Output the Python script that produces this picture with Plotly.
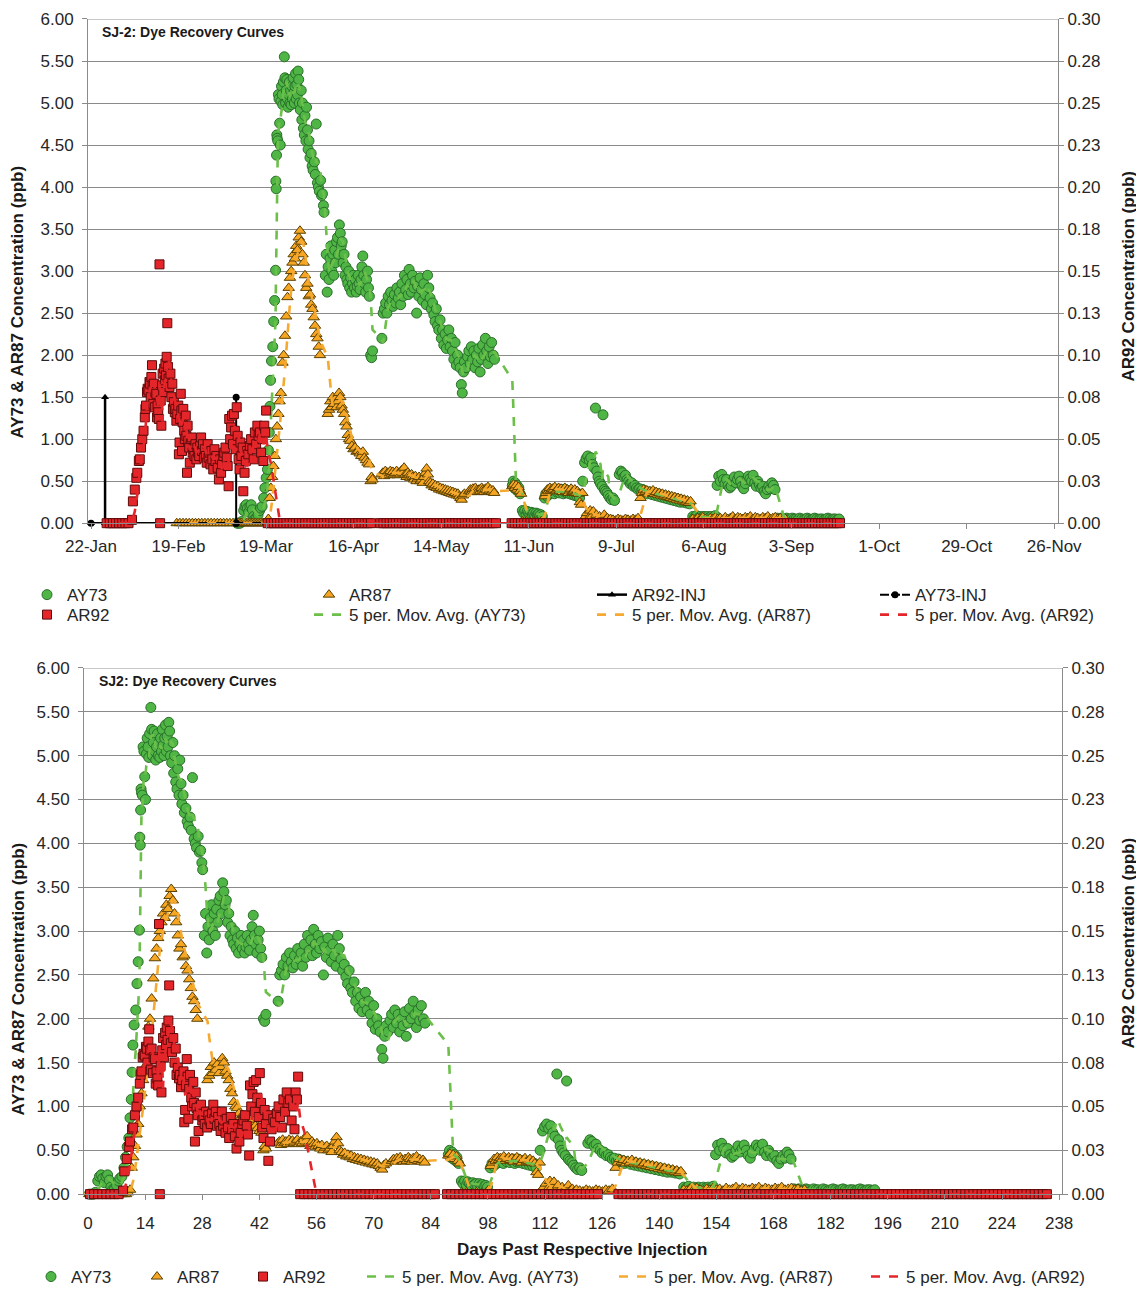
import pandas as pd
import plotly.graph_objects as go

# ---------------- data ----------------
ay73_inj = "2011-03-09 10:00"
ar87_inj = "2011-03-09 10:00"
ar92_inj = "2011-01-26 12:00"

# (days past injection, ppb)
ay73_pts = [
    (0.3, 0.0), (0.8, 0.0), (1.3, 0.0), (1.8, 0.02), (2.4, 0.15), (2.8, 0.2), (3.2, 0.22), (3.6, 0.18),
    (4.0, 0.13), (4.4, 0.2), (4.8, 0.22), (5.2, 0.16), (5.6, 0.08), (6.0, 0.05), (6.5, 0.06), (7.0, 0.1),
    (7.5, 0.15), (7.8, 0.18), (8.3, 0.2), (8.8, 0.3), (9.2, 0.42), (9.6, 0.54), (10.0, 0.64), (10.3, 0.87),
    (10.6, 1.08), (10.8, 1.39), (11.0, 1.7), (11.3, 1.93), (11.7, 2.1), (12.0, 2.4), (12.3, 2.65), (12.6, 3.01),
    (12.7, 4.07), (12.8, 3.98), (12.9, 4.38), (13.0, 4.62), (13.1, 4.58), (13.3, 4.55), (13.5, 5.1), (13.7, 5.05),
    (13.9, 4.76), (14.1, 4.5), (14.3, 5.02), (14.5, 5.2), (14.7, 5.1), (14.9, 4.98), (15.1, 5.25), (15.4, 5.55),
    (15.6, 5.3), (15.8, 5.0), (16.0, 5.15), (16.2, 5.28), (16.4, 5.05), (16.6, 4.95), (16.8, 5.1), (17.0, 5.25),
    (17.2, 5.0), (17.4, 5.15), (17.6, 4.98), (17.8, 5.2), (18.0, 5.05), (18.2, 5.3), (18.4, 5.12), (18.6, 5.0),
    (18.8, 5.2), (19.0, 5.35), (19.2, 5.05), (19.4, 5.22), (19.6, 5.1), (19.8, 5.38), (20.0, 5.28), (20.2, 5.0),
    (20.5, 4.92), (20.8, 5.15), (21.0, 4.8), (21.2, 5.0), (21.5, 4.7), (21.8, 4.62), (22.0, 4.85), (22.3, 4.55),
    (22.5, 4.95), (22.8, 4.68), (23.0, 4.45), (23.3, 4.55), (23.6, 4.35), (24.0, 4.4), (24.3, 4.25), (24.6, 4.2),
    (25.0, 4.3), (25.3, 4.15), (25.6, 4.75), (26.0, 4.05), (26.3, 4.0), (26.6, 3.95), (27.0, 4.08), (27.3, 3.9),
    (27.6, 3.92), (27.9, 3.78), (28.1, 3.7),
    (28.5, 2.95), (28.8, 3.2), (29.1, 2.75), (29.4, 3.05), (29.7, 2.9), (30.0, 3.15), (30.3, 3.3), (30.6, 3.0),
    (30.9, 3.2), (31.2, 2.95), (31.5, 3.25), (31.8, 3.1), (32.1, 3.35), (32.4, 3.4), (32.7, 3.2), (33.0, 3.55),
    (33.3, 3.45), (33.6, 3.3), (33.9, 3.35), (34.2, 3.1), (34.5, 3.2), (34.8, 2.95), (35.1, 3.05), (35.4, 2.9),
    (35.7, 2.85), (36.0, 3.0), (36.3, 2.8), (36.6, 2.92), (36.9, 2.75), (37.2, 2.85), (37.5, 2.95), (37.8, 2.8),
    (38.1, 2.9), (38.4, 2.75), (38.7, 2.82), (39.0, 2.95), (39.3, 2.85), (39.6, 2.78), (39.9, 2.9), (40.2, 3.05),
    (40.5, 3.18), (40.8, 2.95), (41.1, 2.85), (41.4, 2.75), (41.7, 2.9), (42.0, 3.0), (42.3, 2.8), (42.6, 2.7),
    (43.0, 2.0), (43.3, 1.97), (43.6, 2.05),
    (46.6, 2.2), (47.0, 2.5), (47.4, 2.55), (47.8, 2.62), (48.2, 2.5), (48.6, 2.7), (49.0, 2.6), (49.4, 2.75),
    (49.8, 2.65), (50.2, 2.58), (50.6, 2.72), (51.0, 2.62), (51.4, 2.8), (51.8, 2.68), (52.2, 2.75), (52.6, 2.6),
    (53.0, 2.85), (53.4, 2.7), (53.8, 2.95), (54.2, 2.78), (54.6, 2.9), (55.0, 2.72), (55.3, 3.02), (55.7, 2.85),
    (56.0, 2.75), (56.4, 2.95), (56.8, 2.8), (57.2, 2.88), (57.7, 2.5), (58.0, 2.82), (58.4, 2.7), (58.8, 2.92),
    (59.2, 2.78), (59.6, 2.65), (60.0, 2.85), (60.4, 2.72), (60.8, 2.6), (61.2, 2.95), (61.6, 2.8), (62.0, 2.68),
    (62.4, 2.55), (62.8, 2.62), (63.2, 2.48), (63.6, 2.4), (64.0, 2.55), (64.4, 2.35), (64.8, 2.3), (65.2, 2.42),
    (65.6, 2.2), (66.0, 2.3), (66.4, 2.12), (66.8, 2.25), (67.2, 2.08), (67.6, 2.18), (68.0, 2.3), (68.4, 2.1),
    (68.8, 2.2), (69.2, 2.05), (69.6, 1.95), (70.0, 2.15), (70.4, 1.88), (70.8, 2.0), (71.2, 1.92), (71.6, 1.85),
    (72.0, 1.65), (72.3, 1.55), (72.7, 1.8), (73.0, 1.92), (73.5, 1.85), (74.0, 1.98), (74.4, 2.05), (74.8, 1.9),
    (75.2, 2.1), (75.6, 1.95), (76.0, 2.05), (76.4, 1.85), (76.8, 2.0), (77.2, 1.92), (77.6, 2.08), (78.0, 1.8),
    (78.4, 1.95), (78.8, 2.12), (79.2, 2.0), (79.7, 2.2), (80.1, 2.05), (80.5, 1.9), (80.9, 2.1), (81.3, 1.98),
    (81.7, 2.15), (82.2, 2.0), (82.6, 1.95),
    (88.3, 0.45), (88.6, 0.5), (88.9, 0.42), (89.2, 0.48), (89.5, 0.4), (89.8, 0.45), (90.1, 0.38), (90.4, 0.42),
    (90.8, 0.35), (91.5, 0.15), (91.9, 0.12), (92.3, 0.15), (92.7, 0.1), (93.1, 0.14), (93.5, 0.12), (93.9, 0.1),
    (94.3, 0.13), (94.7, 0.11), (95.1, 0.12), (95.5, 0.09), (95.9, 0.12), (96.3, 0.1), (96.7, 0.11), (97.1, 0.09),
    (97.5, 0.1), (97.9, 0.08), (98.6, 0.3), (99.0, 0.35), (99.4, 0.32), (99.8, 0.38), (100.2, 0.35), (100.6, 0.4),
    (101.0, 0.36), (101.4, 0.38), (101.8, 0.35), (102.2, 0.4), (102.6, 0.37), (103.0, 0.39), (103.4, 0.36),
    (103.8, 0.38), (104.2, 0.4), (104.6, 0.35), (105.0, 0.37), (105.4, 0.4), (105.8, 0.36), (106.2, 0.38),
    (106.6, 0.35), (107.0, 0.37), (107.4, 0.34), (107.8, 0.36), (108.2, 0.33), (108.6, 0.35), (109.0, 0.32),
    (109.4, 0.35), (109.8, 0.3),
    (110.8, 0.5), (111.4, 0.72), (111.9, 0.77), (112.4, 0.8), (112.9, 0.75), (113.4, 0.78), (113.9, 0.7),
    (114.4, 0.66), (114.9, 1.37), (115.3, 0.62), (115.7, 0.55), (116.1, 0.5), (116.5, 0.47), (117.0, 0.44),
    (117.3, 1.29), (117.7, 0.4), (118.1, 0.38), (118.6, 0.36), (119.0, 0.33), (119.5, 0.3), (120.0, 0.28),
    (120.5, 0.3), (121.0, 0.27),
    (122.5, 0.58), (123.0, 0.62), (123.5, 0.6), (124.0, 0.55), (124.5, 0.57), (125.0, 0.52), (125.5, 0.5),
    (126.0, 0.47), (126.5, 0.48), (127.0, 0.44), (127.5, 0.45), (128.0, 0.42), (128.5, 0.4), (129.0, 0.41),
    (129.5, 0.38), (130.0, 0.4), (130.5, 0.37), (131.0, 0.38), (131.5, 0.35), (132.0, 0.37), (132.5, 0.36),
    (133.0, 0.34), (133.5, 0.36), (134.0, 0.33), (134.5, 0.35), (135.0, 0.32), (135.5, 0.34), (136.0, 0.31),
    (136.5, 0.33), (137.0, 0.3), (137.5, 0.32), (138.0, 0.29), (138.5, 0.31), (139.0, 0.28), (139.5, 0.3),
    (140.0, 0.27), (140.5, 0.29), (141.0, 0.26), (141.5, 0.28), (142.0, 0.25), (142.5, 0.27), (143.0, 0.25),
    (143.5, 0.26), (144.0, 0.24), (144.5, 0.25), (145.0, 0.23),
    (146.0, 0.08), (146.6, 0.07), (147.2, 0.09), (147.8, 0.06), (148.4, 0.08), (149.0, 0.07), (149.6, 0.08),
    (150.2, 0.06), (150.8, 0.08), (151.4, 0.07), (152.0, 0.08), (152.6, 0.07), (153.2, 0.09),
    (153.8, 0.45), (154.3, 0.56), (154.8, 0.5), (155.3, 0.58), (155.8, 0.52), (156.3, 0.47), (156.8, 0.52),
    (157.3, 0.45), (157.8, 0.42), (158.3, 0.44), (158.8, 0.5), (159.3, 0.55), (159.8, 0.48), (160.3, 0.52),
    (160.8, 0.56), (161.3, 0.5), (161.8, 0.44), (162.3, 0.41), (162.8, 0.47), (163.3, 0.52), (163.8, 0.56),
    (164.3, 0.53), (164.8, 0.5), (165.3, 0.57), (165.8, 0.48), (166.3, 0.44), (166.8, 0.5), (167.3, 0.46),
    (167.8, 0.42), (168.3, 0.44), (168.8, 0.38), (169.3, 0.35), (169.8, 0.4), (170.3, 0.44), (170.8, 0.41),
    (171.3, 0.48), (171.8, 0.45), (172.3, 0.4),
    (173.0, 0.06), (173.6, 0.05), (174.2, 0.06), (174.8, 0.04), (175.4, 0.05), (176.0, 0.06), (176.6, 0.05),
    (177.2, 0.04), (177.8, 0.06), (178.4, 0.05), (179.0, 0.05), (179.6, 0.04), (180.2, 0.06), (180.8, 0.05),
    (181.4, 0.04), (182.0, 0.05), (182.6, 0.06), (183.2, 0.05), (183.8, 0.04), (184.4, 0.05), (185.0, 0.06),
    (185.6, 0.05), (186.2, 0.04), (186.8, 0.05), (187.4, 0.05), (188.0, 0.04), (188.6, 0.05), (189.2, 0.06),
    (189.8, 0.05), (190.4, 0.04), (191.0, 0.05), (191.6, 0.05), (192.2, 0.04), (192.8, 0.05),
]

ar87_pts = [
    (-19, 0), (-18, 0), (-17, 0), (-16, 0), (-15, 0), (-14, 0), (-13, 0), (-12, 0), (-11, 0), (-10, 0),
    (-9, 0), (-8, 0), (-7, 0), (-6, 0), (-5, 0), (-4, 0), (-3, 0), (-2, 0), (-1, 0),
    (0.3, 0), (0.8, 0), (1.3, 0), (1.8, 0), (2.3, 0), (2.8, 0), (3.3, 0), (3.8, 0), (4.3, 0), (4.8, 0),
    (5.3, 0), (5.8, 0), (6.3, 0), (6.8, 0), (7.3, 0), (7.8, 0), (8.3, 0), (8.8, 0), (9.3, 0), (9.8, 0.02),
    (10.3, 0.05), (10.7, 0.3), (11.1, 0.42), (11.5, 0.55), (11.9, 0.68), (12.3, 0.8), (12.7, 1.0), (13.1, 1.15),
    (13.5, 1.3), (13.9, 1.45), (14.3, 1.55), (14.8, 1.91), (15.2, 2.0), (15.6, 2.23), (16.0, 2.46), (16.4, 2.69),
    (16.8, 2.8), (17.2, 2.92), (17.6, 3.0), (18.0, 3.1), (18.4, 3.2), (18.8, 3.15), (19.2, 3.3), (19.6, 3.25),
    (20.0, 3.4), (20.4, 3.48), (20.8, 3.35), (21.2, 3.2), (21.6, 3.1), (22.0, 2.95), (22.4, 2.8), (22.8, 2.85),
    (23.2, 2.7), (23.6, 2.72), (24.0, 2.6), (24.4, 2.55), (24.8, 2.45), (25.2, 2.35), (25.6, 2.25), (26.0, 2.2),
    (26.4, 2.1), (26.8, 2.0),
    (29.3, 1.3), (29.7, 1.35), (30.1, 1.45), (30.5, 1.38), (30.9, 1.5), (31.3, 1.42), (31.7, 1.48), (32.1, 1.38),
    (32.5, 1.45), (32.9, 1.55), (33.3, 1.5), (33.7, 1.4), (34.1, 1.35), (34.5, 1.3), (34.9, 1.2), (35.3, 1.15),
    (35.7, 1.05), (36.1, 1.0), (36.5, 0.98), (37.0, 0.92), (37.5, 0.88), (38.0, 0.9), (38.5, 0.85), (39.0, 0.86),
    (39.5, 0.83), (40.0, 0.8), (40.5, 0.85), (41.0, 0.78), (41.5, 0.75), (42.0, 0.72), (42.5, 0.7),
    (43.0, 0.5), (43.3, 0.55), (43.6, 0.52),
    (46.5, 0.58), (46.9, 0.6), (47.3, 0.56), (47.7, 0.62), (48.1, 0.58), (48.5, 0.6), (48.9, 0.57), (49.3, 0.62),
    (49.7, 0.59), (50.1, 0.61), (50.5, 0.58), (50.9, 0.6), (51.3, 0.62), (51.7, 0.57), (52.1, 0.6), (52.5, 0.58),
    (52.9, 0.63), (53.3, 0.6), (53.7, 0.66), (54.1, 0.58), (54.5, 0.55), (54.9, 0.6), (55.3, 0.57), (55.7, 0.54),
    (56.1, 0.58), (56.5, 0.55), (56.9, 0.52), (57.3, 0.56), (57.7, 0.5), (58.1, 0.53), (58.5, 0.55), (58.9, 0.5),
    (59.3, 0.52), (59.7, 0.48), (60.1, 0.55), (60.5, 0.6), (60.9, 0.65), (61.3, 0.58), (61.7, 0.5), (62.1, 0.48),
    (62.5, 0.45), (62.9, 0.47), (63.3, 0.43), (63.7, 0.45), (64.1, 0.42), (64.5, 0.44), (64.9, 0.4), (65.3, 0.42),
    (65.7, 0.39), (66.1, 0.41), (66.5, 0.38), (66.9, 0.4), (67.3, 0.37), (67.7, 0.39), (68.1, 0.36), (68.5, 0.38),
    (68.9, 0.35), (69.3, 0.37), (69.7, 0.34), (70.1, 0.36), (70.5, 0.33), (70.9, 0.35), (71.3, 0.32), (71.7, 0.3),
    (72.1, 0.28), (72.5, 0.33), (73.0, 0.35), (74.5, 0.38), (74.9, 0.4), (75.3, 0.37), (75.7, 0.41), (76.1, 0.38),
    (76.5, 0.42), (76.9, 0.39), (77.3, 0.37), (77.7, 0.4), (78.1, 0.38), (78.5, 0.42), (78.9, 0.4), (79.3, 0.37),
    (79.7, 0.41), (80.1, 0.39), (80.5, 0.43), (80.9, 0.38), (81.3, 0.4), (81.7, 0.37), (82.1, 0.39), (82.5, 0.36),
    (88.3, 0.44), (88.7, 0.46), (89.1, 0.42), (89.5, 0.45), (89.9, 0.4), (90.3, 0.43), (90.7, 0.38), (91.1, 0.35),
    (91.6, 0.02), (92.2, 0.0), (92.8, 0.02), (93.4, 0.0), (94.0, 0.01), (94.6, 0.0), (95.2, 0.02), (95.8, 0.0),
    (96.4, 0.01), (97.0, 0.0), (97.6, 0.02), (98.2, 0.05),
    (98.7, 0.32), (99.1, 0.36), (99.5, 0.4), (99.9, 0.38), (100.3, 0.42), (100.7, 0.39), (101.1, 0.41),
    (101.5, 0.4), (101.9, 0.43), (102.3, 0.38), (102.7, 0.4), (103.1, 0.42), (103.5, 0.39), (103.9, 0.41),
    (104.3, 0.37), (104.7, 0.4), (105.1, 0.42), (105.5, 0.38), (105.9, 0.4), (106.3, 0.36), (106.7, 0.39),
    (107.1, 0.41), (107.5, 0.37), (107.9, 0.38), (108.3, 0.4), (108.7, 0.36), (109.1, 0.38), (109.5, 0.35),
    (109.9, 0.25), (110.3, 0.22), (110.7, 0.36),
    (111.2, 0.05), (111.7, 0.08), (112.2, 0.12), (112.7, 0.06), (113.2, 0.15), (113.7, 0.08), (114.2, 0.14),
    (114.7, 0.05), (115.2, 0.1), (115.7, 0.04), (116.2, 0.08), (116.7, 0.05), (117.2, 0.06), (117.7, 0.1),
    (118.2, 0.04), (118.7, 0.06), (119.2, 0.03), (119.7, 0.05), (120.5, 0.04), (121.3, 0.03), (122.1, 0.05),
    (122.9, 0.04), (123.7, 0.03), (124.5, 0.05), (125.3, 0.04), (126.1, 0.03), (126.9, 0.05), (127.7, 0.04),
    (128.5, 0.06),
    (129.3, 0.3), (129.8, 0.36), (130.3, 0.4), (130.8, 0.37), (131.3, 0.39), (131.8, 0.35), (132.3, 0.38),
    (132.8, 0.36), (133.3, 0.39), (133.8, 0.35), (134.3, 0.37), (134.8, 0.34), (135.3, 0.36), (135.8, 0.33),
    (136.3, 0.35), (136.8, 0.32), (137.3, 0.34), (137.8, 0.31), (138.3, 0.33), (138.8, 0.3), (139.3, 0.32),
    (139.8, 0.29), (140.3, 0.31), (140.8, 0.28), (141.3, 0.3), (141.8, 0.27), (142.3, 0.29), (142.8, 0.26),
    (143.3, 0.28), (143.8, 0.25), (144.3, 0.27), (144.8, 0.24), (145.3, 0.26),
    (146.0, 0.05), (146.8, 0.04), (147.6, 0.06), (148.4, 0.05), (149.2, 0.07), (150.0, 0.05), (150.8, 0.04),
    (151.6, 0.06), (152.4, 0.05), (153.2, 0.07), (154.0, 0.05), (154.8, 0.06), (155.6, 0.04), (156.4, 0.07),
    (157.2, 0.05), (158.0, 0.06), (158.8, 0.08), (159.6, 0.05), (160.4, 0.07), (161.2, 0.06), (162.0, 0.05),
    (162.8, 0.07), (163.6, 0.06), (164.4, 0.08), (165.2, 0.05), (166.0, 0.07), (166.8, 0.06), (167.6, 0.05),
    (168.4, 0.07), (169.2, 0.06), (170.0, 0.08), (170.8, 0.05), (171.6, 0.06), (172.4, 0.07), (173.2, 0.05),
    (174.0, 0.06), (174.8, 0.04), (175.6, 0.05),
]

# AR92 in ppb (read on the right-hand axis)
ar92_pts = [
    (0.5, 0), (1.5, 0), (2.5, 0), (3.5, 0), (4.5, 0), (5.5, 0), (6.5, 0), (7.5, 0),
    (8.6, 0.002), (8.9, 0.013), (9.5, 0.02), (10.0, 0.027), (10.3, 0.03), (10.8, 0.037), (11.1, 0.038),
    (11.5, 0.045), (11.9, 0.05), (12.3, 0.055), (12.7, 0.063), (12.9, 0.068), (13.1, 0.07), (13.4, 0.078),
    (13.6, 0.08), (13.9, 0.079), (14.2, 0.084), (14.4, 0.083), (14.6, 0.075), (14.8, 0.087), (15.0, 0.094),
    (15.2, 0.082), (15.4, 0.071), (15.6, 0.083), (15.9, 0.069), (16.1, 0.078), (16.4, 0.077), (16.6, 0.063),
    (16.8, 0.07), (17.0, 0.066), (17.2, 0.062), (17.4, 0.154), (17.6, 0.0), (17.8, 0.073), (18.0, 0.058),
    (18.2, 0.082), (18.4, 0.089), (18.6, 0.078), (18.9, 0.092), (19.1, 0.085), (19.3, 0.095), (19.5, 0.088),
    (19.7, 0.099), (19.9, 0.119), (20.1, 0.093), (20.3, 0.086), (20.6, 0.081), (20.9, 0.089), (21.2, 0.075),
    (21.5, 0.083), (21.7, 0.068), (22.0, 0.072), (22.3, 0.066), (22.5, 0.068), (22.8, 0.061), (23.1, 0.065),
    (23.4, 0.07), (23.6, 0.041), (23.8, 0.048), (24.0, 0.062), (24.2, 0.077), (24.4, 0.067), (24.6, 0.043),
    (24.8, 0.06), (25.0, 0.068), (25.3, 0.055), (25.5, 0.05), (25.8, 0.064), (26.0, 0.052), (26.2, 0.03),
    (26.4, 0.058), (26.6, 0.049), (26.9, 0.045), (27.1, 0.036), (27.4, 0.05), (27.7, 0.051), (28.0, 0.042),
    (28.3, 0.044), (28.6, 0.04), (28.9, 0.047), (29.2, 0.038), (29.5, 0.045), (29.8, 0.042), (30.1, 0.04),
    (30.4, 0.046), (30.7, 0.051), (31.0, 0.043), (31.3, 0.047), (31.6, 0.039), (31.9, 0.044), (32.2, 0.04),
    (32.5, 0.036), (32.8, 0.047), (33.1, 0.039), (33.4, 0.042), (33.7, 0.035), (34.0, 0.043), (34.3, 0.038),
    (34.6, 0.032), (35.0, 0.044), (35.3, 0.037), (35.6, 0.04), (36.0, 0.033), (36.4, 0.026), (36.8, 0.038),
    (37.1, 0.03), (37.4, 0.035), (37.8, 0.04), (38.1, 0.042), (38.5, 0.045), (38.9, 0.039), (39.2, 0.034),
    (39.5, 0.022), (39.7, 0.062), (40.0, 0.05), (40.3, 0.057), (40.6, 0.064), (40.9, 0.047), (41.2, 0.065),
    (41.5, 0.055), (41.8, 0.044), (42.1, 0.069), (42.4, 0.052), (42.7, 0.038), (43.0, 0.032), (43.3, 0.048),
    (43.6, 0.04), (44.0, 0.045), (44.2, 0.019), (44.6, 0.03), (45.0, 0.037), (45.4, 0.043), (45.8, 0.041),
    (46.3, 0.046), (46.7, 0.05), (47.1, 0.044), (47.5, 0.038), (47.9, 0.054), (48.3, 0.047), (48.7, 0.058),
    (49.1, 0.052), (49.5, 0.054), (49.9, 0.042), (50.3, 0.05), (50.6, 0.037), (50.9, 0.058), (51.2, 0.054),
    (51.5, 0.067),
    (52, 0), (53, 0), (54, 0), (55, 0), (56, 0), (57, 0), (58, 0), (59, 0), (60, 0), (61, 0), (62, 0),
    (63, 0), (64, 0), (65, 0), (66, 0), (67, 0), (68, 0), (69, 0), (70, 0), (71, 0), (72, 0), (73, 0),
    (74, 0), (75, 0), (76, 0), (77, 0), (78, 0), (79, 0), (80, 0), (81, 0), (82, 0), (83, 0), (84, 0),
    (85, 0), (88, 0), (89, 0), (90, 0), (91, 0), (92, 0), (93, 0), (94, 0), (95, 0), (96, 0), (97, 0),
    (98, 0), (99, 0), (100, 0), (101, 0), (102, 0), (103, 0), (104, 0), (105, 0), (106, 0), (107, 0),
    (108, 0), (109, 0), (110, 0), (111, 0), (112, 0), (113, 0), (114, 0), (115, 0), (116, 0), (117, 0),
    (118, 0), (119, 0), (120, 0), (121, 0), (122, 0), (123, 0), (124, 0), (125, 0), (130, 0), (131, 0),
    (132, 0), (133, 0), (134, 0), (135, 0), (136, 0), (137, 0), (138, 0), (139, 0), (140, 0), (141, 0),
    (142, 0), (143, 0), (144, 0), (145, 0), (146, 0), (147, 0), (148, 0), (149, 0), (150, 0), (151, 0),
    (152, 0), (153, 0), (154, 0), (155, 0), (156, 0), (157, 0), (158, 0), (159, 0), (160, 0), (161, 0),
    (162, 0), (163, 0), (164, 0), (165, 0), (166, 0), (167, 0), (168, 0), (169, 0), (170, 0), (171, 0),
    (172, 0), (173, 0), (174, 0), (175, 0), (176, 0), (177, 0), (178, 0), (179, 0), (180, 0), (181, 0),
    (182, 0), (183, 0), (184, 0), (185, 0), (186, 0), (187, 0), (188, 0), (189, 0), (190, 0), (191, 0),
    (192, 0), (193, 0), (194, 0), (195, 0), (196, 0), (197, 0), (198, 0), (199, 0), (200, 0), (201, 0),
    (202, 0), (203, 0), (204, 0), (205, 0), (206, 0), (207, 0), (208, 0), (209, 0), (210, 0), (211, 0),
    (212, 0), (213, 0), (214, 0), (215, 0), (216, 0), (217, 0), (218, 0), (219, 0), (220, 0), (221, 0),
    (222, 0), (223, 0), (224, 0), (225, 0), (226, 0), (227, 0), (228, 0), (229, 0), (230, 0), (231, 0),
    (232, 0), (233, 0), (234, 0), (235, 0),
]

# injection markers (ppb on the left axis)
ar92_inj_dates = ["2011-01-22", "2011-01-26 12:00", "2011-01-26 12:00", "2011-01-26 12:00", "2011-03-19"]
ar92_inj_ppb = [0, 0, 1.5, 0, 0]
ay73_inj_dates = ["2011-01-22", "2011-03-09 10:00", "2011-03-09 10:00", "2011-03-09 10:00", "2011-03-19"]
ay73_inj_ppb = [0, 0, 1.5, 0, 0]

date_ticks = ["2011-01-22", "2011-02-19", "2011-03-19", "2011-04-16", "2011-05-14", "2011-06-11",
              "2011-07-09", "2011-08-06", "2011-09-03", "2011-10-01", "2011-10-29", "2011-11-26"]
day_ticks = [0, 14, 28, 42, 56, 70, 84, 98, 112, 126, 140, 154, 168, 182, 196, 210, 224, 238]
left_ticks = [0, 0.5, 1, 1.5, 2, 2.5, 3, 3.5, 4, 4.5, 5, 5.5, 6]
right_ticks = [0, 0.025, 0.05, 0.075, 0.1, 0.125, 0.15, 0.175, 0.2, 0.225, 0.25, 0.275, 0.3]
right_text = ["0.00", "0.03", "0.05", "0.08", "0.10", "0.13", "0.15", "0.18", "0.20", "0.23", "0.25", "0.28", "0.30"]

# ---------------- build ----------------
def frame(pts, inj):
    df = pd.DataFrame(pts, columns=["day", "ppb"])
    df["date"] = pd.Timestamp(inj) + pd.to_timedelta(df["day"], unit="D")
    df["ma"] = df["ppb"].rolling(5).mean()
    return df

ay73 = frame(ay73_pts, ay73_inj)
ar87 = frame(ar87_pts, ar87_inj)
ar92 = frame(ar92_pts, ar92_inj)

FONT = "Liberation Sans, Arial, sans-serif"
OFF = 8                      # the page body adds an 8px margin around the figure
W, H = 1144 - OFF, 1295 - OFF
G_FILL, G_LINE, G_MA = "#4fb646", "#2a6e2a", "#6cc04a"
O_FILL, O_LINE, O_MA = "#f6a623", "#5a4000", "#f5a930"
R_FILL, R_LINE, R_MA = "#e4262b", "#5e0a0a", "#e4262b"
GRID = "#8a8a8a"

def px_x(p):
    return (p - OFF) / W

def px_y(p):
    return 1 - (p - OFF) / H

fig = go.Figure()
legends = {}
LEG_OFF = 43  # legend box left edge -> text start

def leg(name, text_x, row_y):
    legends[name] = dict(x=px_x(text_x - LEG_OFF), y=px_y(row_y))
    return name

def add_set(top):
    if top:
        xa, ya, ya2 = "x", "y", "y2"
        xs = lambda d: d["date"]
        vis = lambda d: d
        r1, r2 = 596, 616
        L = dict(ay73=leg("legend", 70, r1), ar87=leg("legend2", 352, r1),
                 inj92=leg("legend3", 635, r1), inj73=leg("legend4", 918, r1),
                 ar92=leg("legend5", 70, r2), ma73=leg("legend6", 352, r2),
                 ma87=leg("legend7", 635, r2), ma92=leg("legend8", 918, r2))
    else:
        xa, ya, ya2 = "x2", "y3", "y4"
        xs = lambda d: d["day"]
        vis = lambda d: d[d["day"] >= -0.9]
        rb = 1279
        L = dict(ay73=leg("legend9", 74, rb), ar87=leg("legend10", 180, rb), ar92=leg("legend11", 286, rb),
                 ma73=leg("legend12", 405, rb), ma87=leg("legend13", 657, rb), ma92=leg("legend14", 909, rb))
    a, o, r = vis(ay73), vis(ar87), vis(ar92)
    fig.add_trace(go.Scatter(x=xs(a), y=a["ppb"], mode="markers", name="AY73", xaxis=xa, yaxis=ya,
                             marker=dict(symbol="circle", size=10, color=G_FILL, line=dict(color=G_LINE, width=1)),
                             cliponaxis=False, legend=L["ay73"]))
    fig.add_trace(go.Scatter(x=xs(o), y=o["ppb"], mode="markers", name="AR87", xaxis=xa, yaxis=ya,
                             marker=dict(symbol="triangle-up", size=10, color=O_FILL, line=dict(color=O_LINE, width=1)),
                             cliponaxis=False, legend=L["ar87"]))
    if top:
        fig.add_trace(go.Scatter(x=ar92_inj_dates, y=ar92_inj_ppb, mode="lines+markers", name="AR92-INJ",
                                 xaxis=xa, yaxis=ya, line=dict(color="black", width=2.5),
                                 marker=dict(symbol="triangle-up", size=7, color="black"),
                                 cliponaxis=False, legend=L["inj92"]))
        fig.add_trace(go.Scatter(x=ay73_inj_dates, y=ay73_inj_ppb, mode="lines+markers", name="AY73-INJ",
                                 xaxis=xa, yaxis=ya, line=dict(color="black", width=2, dash="9px,2px"),
                                 marker=dict(symbol="circle", size=7, color="black"),
                                 cliponaxis=False, legend=L["inj73"]))
    fig.add_trace(go.Scatter(x=xs(ay73), y=ay73["ma"], mode="lines", name="5 per. Mov. Avg. (AY73)",
                             xaxis=xa, yaxis=ya, line=dict(color=G_MA, width=2.6, dash="dash"), legend=L["ma73"]))
    fig.add_trace(go.Scatter(x=xs(ar87), y=ar87["ma"], mode="lines", name="5 per. Mov. Avg. (AR87)",
                             xaxis=xa, yaxis=ya, line=dict(color=O_MA, width=2.6, dash="dash"), legend=L["ma87"]))
    fig.add_trace(go.Scatter(x=xs(r), y=r["ppb"], mode="markers", name="AR92", xaxis=xa, yaxis=ya2,
                             marker=dict(symbol="square", size=9, color=R_FILL, line=dict(color=R_LINE, width=1)),
                             cliponaxis=False, legend=L["ar92"]))
    fig.add_trace(go.Scatter(x=xs(ar92), y=ar92["ma"], mode="lines", name="5 per. Mov. Avg. (AR92)",
                             xaxis=xa, yaxis=ya2, line=dict(color=R_MA, width=2.6, dash="dash"), legend=L["ma92"]))

add_set(True)
add_set(False)

tickfont = dict(family=FONT, size=17, color="#262626")
ax_common = dict(showline=True, linecolor=GRID, linewidth=1, ticks="outside", ticklen=5,
                 tickcolor=GRID, tickfont=tickfont, zeroline=False, automargin=False,
                 ticklabeloverflow="allow")

TOP1 = 19   # top edge of the upper plot area (px), keeps the 6.00 label inside the page

fig.update_layout(
    width=W, height=H, margin=dict(l=0, r=0, t=0, b=0, pad=0),
    paper_bgcolor="white", plot_bgcolor="white", font=dict(family=FONT, size=17, color="#262626"),
    xaxis=dict(domain=[px_x(88), px_x(1058)], anchor="y", type="date",
               range=["2011-01-21 01:00", "2011-11-27 05:00"], tickvals=date_ticks, tickformat="%-d-%b",
               showgrid=False, ticklabelstandoff=2, **ax_common),
    yaxis=dict(domain=[px_y(524), px_y(TOP1)], anchor="x", range=[0, 6], tickvals=left_ticks,
               tickformat=".2f", showgrid=True, gridcolor=GRID, gridwidth=1, ticklabelstandoff=5,
               **ax_common),
    yaxis2=dict(overlaying="y", anchor="x", side="right", range=[0, 0.3], tickvals=right_ticks,
                ticktext=right_text, showgrid=False, **ax_common),
    xaxis2=dict(domain=[px_x(84), px_x(1062)], anchor="y3", range=[-0.98, 238.7], tickvals=day_ticks,
                showgrid=False, ticklabelstandoff=8, **ax_common),
    yaxis3=dict(domain=[px_y(1196), px_y(669)], anchor="x2", range=[0, 6], tickvals=left_ticks,
                tickformat=".2f", showgrid=True, gridcolor=GRID, gridwidth=1, ticklabelstandoff=5,
                **ax_common),
    yaxis4=dict(overlaying="y3", anchor="x2", side="right", range=[0, 0.3], tickvals=right_ticks,
                ticktext=right_text, showgrid=False, **ax_common),
    showlegend=True,
)

# top border of each plot area (the 6.00 gridline sits exactly on the edge)
fig.add_shape(type="line", xref="x domain", yref="y", x0=0, x1=1, y0=6, y1=6,
              line=dict(color=GRID, width=1), layer="below")
fig.add_shape(type="line", xref="x2 domain", yref="y3", x0=0, x1=1, y0=6, y1=6,
              line=dict(color=GRID, width=1), layer="below")

leg_common = dict(orientation="h", font=dict(family=FONT, size=17, color="#262626"), bgcolor="rgba(0,0,0,0)",
                  xanchor="left", yanchor="middle", itemclick=False, itemdoubleclick=False)
fig.update_layout(**{k: dict(v, **leg_common) for k, v in legends.items()})

ann = []
def txt(text, x, y, size=17, angle=0, xanchor="center", yanchor="middle"):
    ann.append(dict(text=text, x=px_x(x), y=px_y(y), xref="paper", yref="paper", showarrow=False,
                    textangle=angle, xanchor=xanchor, yanchor=yanchor,
                    font=dict(family=FONT, size=size, color="#1a1a1a")))

txt("<b>AY73 & AR87 Concentration (ppb)</b>", 18, 303, angle=-90)
txt("<b>AR92 Concentration (ppb)</b>", 1129, 277, angle=-90)
txt("<b>AY73 & AR87 Concentration (ppb)</b>", 18, 981, angle=-90)
txt("<b>AR92 Concentration (ppb)</b>", 1129, 945, angle=-90)
txt("<b>SJ-2: Dye Recovery Curves</b>", 100, 32, size=14, xanchor="left")
txt("<b>SJ2: Dye Recovery Curves</b>", 97, 682, size=14, xanchor="left")
txt("<b>Days Past Respective Injection</b>", 582, 1251, size=17)
fig.update_layout(annotations=ann)

fig.write_html("out.html")
